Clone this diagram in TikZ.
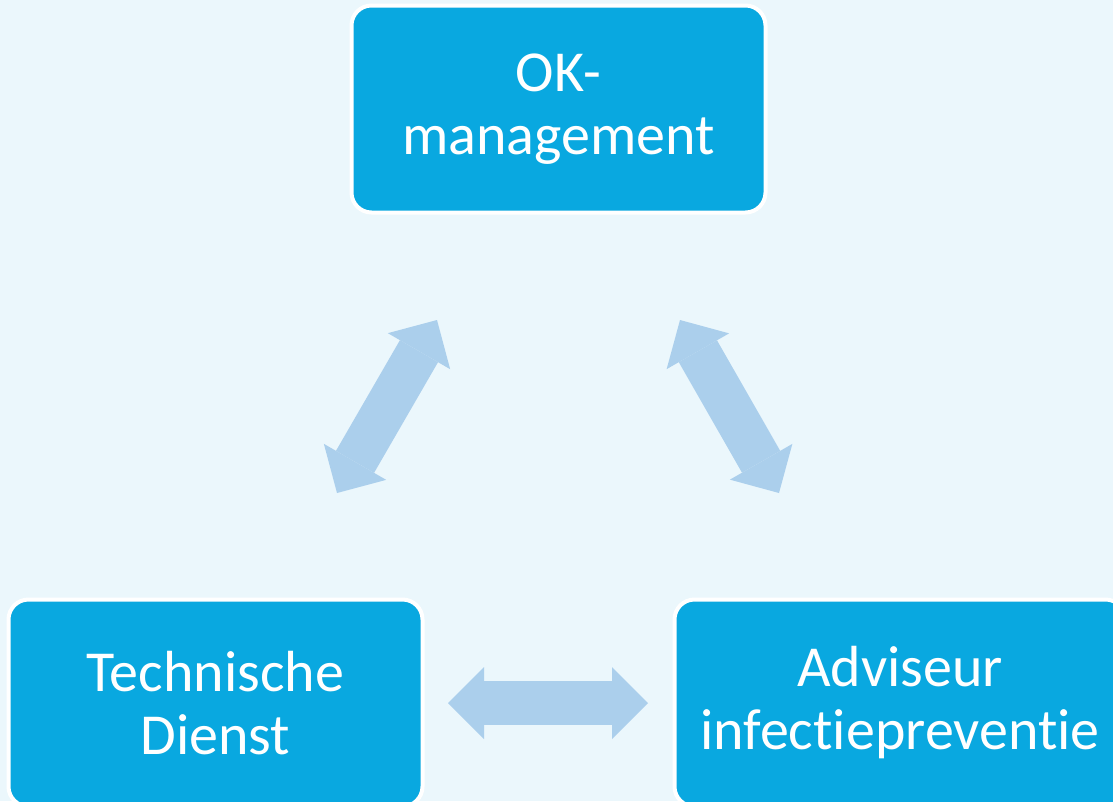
\documentclass[tikz,border=0pt]{standalone}
\usepackage{fontspec}
\setmainfont[Ligatures=NoCommon]{Carlito}
\usetikzlibrary{arrows.meta}
\definecolor{bgblue}{HTML}{EBF7FC}
\definecolor{boxblue}{HTML}{09A8E0}
\definecolor{arrowblue}{HTML}{ABCFEC}
\begin{document}
\begin{tikzpicture}[x=0.75pt,y=-0.75pt,
  box/.style={draw=white,line width=3pt,fill=boxblue,rounded corners=15pt,
    minimum height=155.25pt,text=white,align=center,
    font=\fontsize{43.5}{47.25}\selectfont},
  twoway/.style={draw=arrowblue,line width=33pt,
    {Triangle[length=27pt,width=54pt,line width=0pt]}-{Triangle[length=27pt,width=54pt,line width=0pt]}}]
\clip (0,0) rectangle (1113,801);
\fill[bgblue] (0,0) rectangle (1113,801);
% boxes
\node[box,minimum width=310.5pt] (ok) at (558.5,109) {OK-\\management};
\node[box,minimum width=310.5pt] (td) at (215.5,703) {Technische\\Dienst};
\node[box,minimum width=338.25pt] (ai) at (900,703) {Adviseur\\infectiepreventie};
% arrow ends
\coordinate (okl) at (437,320);
\coordinate (tdu) at (337,493);
\coordinate (okr) at (680,320);
\coordinate (aiu) at (779,493);
\coordinate (tdr) at (448,703);
\coordinate (ail) at (648,703);
% arrows
\draw[twoway] (tdu) -- (okl);
\draw[twoway] (okr) -- (aiu);
\draw[twoway] (tdr) -- (ail);
\end{tikzpicture}
\end{document}
